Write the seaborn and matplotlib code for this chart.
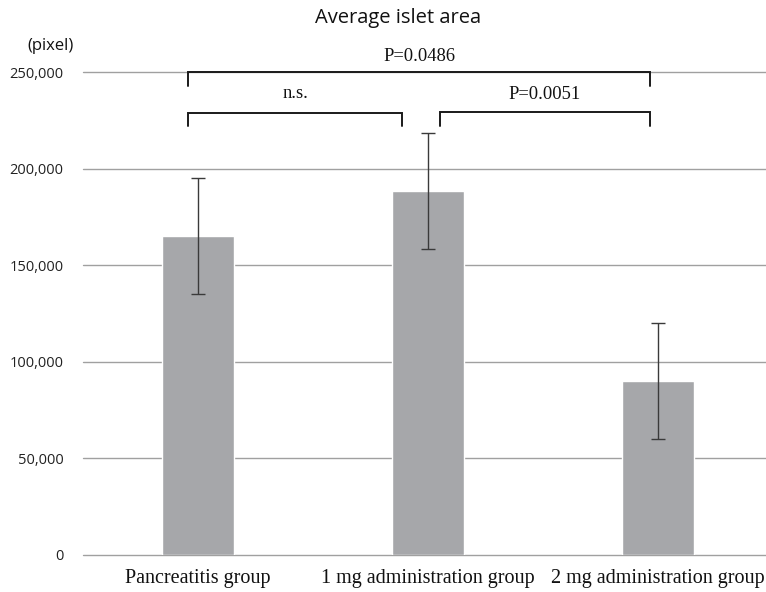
import matplotlib
matplotlib.use("Agg")
import matplotlib.pyplot as plt
import seaborn as sns
import pandas as pd
import numpy as np

groups = ["Pancreatitis group", "1 mg administration group", "2 mg administration group"]
means = [165000, 188500, 90000]
errors = [30000, 30000, 30000]
yticks = [0, 50000, 100000, 150000, 200000, 250000]
ytick_labels = ["0", "50,000", "100,000", "150,000", "200,000", "250,000"]
comparisons = [(0, 2, "P=0.0486"), (0, 1, "n.s."), (1, 2, "P=0.0051")]

sns.set_theme(style="white")
plt.rcParams['font.family'] = ['Open Sans', 'DejaVu Sans']

W, H = 766, 592
fig = plt.figure(figsize=(W / 100, H / 100), dpi=100)
ax = fig.add_axes([83 / W, (H - 555) / H, (766 - 83) / W, (555 - 72) / H])

df = pd.DataFrame({"group": groups, "mean": means})
sns.barplot(data=df, x="group", y="mean", color="#A6A7AA", saturation=1,
            width=0.313, errorbar=None, ax=ax, zorder=3)
ax.errorbar(np.arange(len(groups)), means, yerr=errors, fmt="none",
            ecolor="#3a3a3a", elinewidth=1.0, capsize=5, capthick=1.0, zorder=4)

ax.set_ylim(0, 250000)
ax.set_xlim(-0.5, 2.47)
ax.set_yticks(yticks)
ax.set_yticklabels(ytick_labels, fontsize=10.5, color="#222222")
for yv in yticks:
    ax.axhline(yv, color="#A0A0A0", linewidth=1.0, zorder=0, clip_on=False)
for s in ax.spines.values():
    s.set_visible(False)
ax.tick_params(axis="y", length=0, pad=14)
ax.tick_params(axis="x", length=0, pad=10)
ax.set_xticks(range(len(groups)))
ax.set_xticklabels(groups, fontsize=14.5, family=["Liberation Serif", "DejaVu Serif"], color="#111111")
ax.set_xlabel("")
ax.set_ylabel("")

# significance brackets
bracket_specs = {
    (0, 2): dict(x0=-0.0435, x1=1.965, y=250000, drop=7500, ty=253600),
    (0, 1): dict(x0=-0.0435, x1=0.887, y=229000, drop=7000, ty=234500),
    (1, 2): dict(x0=1.052, x1=1.965, y=229500, drop=7500, ty=234000),
}
for a, b, label in comparisons:
    s = bracket_specs[(a, b)]
    ax.plot([s["x0"], s["x0"], s["x1"], s["x1"]],
            [s["y"] - s["drop"], s["y"], s["y"], s["y"] - s["drop"]],
            color="#1a1a1a", linewidth=1.4, clip_on=False, zorder=5,
            solid_joinstyle="miter")
    ax.text((s["x0"] + s["x1"]) / 2, s["ty"], label, ha="center", va="bottom",
            fontsize=13.3, family=["Liberation Serif", "DejaVu Serif"], color="#111111")

fig.text(398 / W, 1 - 18 / H, "Average islet area", ha="center", va="center",
         fontsize=14.5, color="#111111")
fig.text(50 / W, 1 - 46 / H, "(pixel)", ha="center", va="center",
         fontsize=12, color="#111111")

fig.savefig("out.png", dpi=100, facecolor="white")
